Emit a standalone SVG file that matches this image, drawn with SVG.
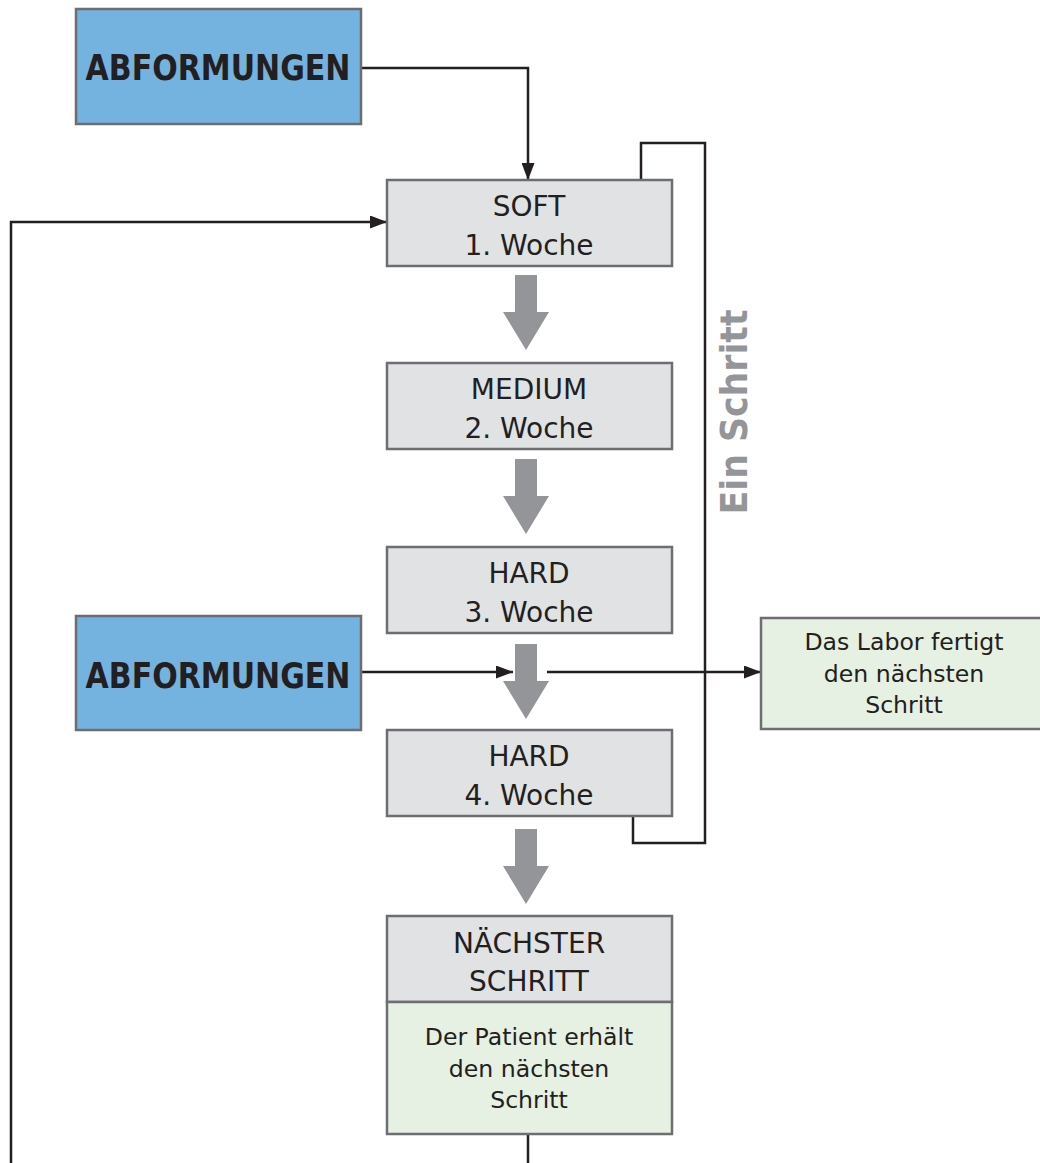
<svg xmlns="http://www.w3.org/2000/svg" width="1040" height="1163" viewBox="0 0 1040 1163">
<style>
.box{stroke:#6d6e71;stroke-width:2.5}
.gray{fill:#e1e2e4}
.blue{fill:#74b2e0}
.green{fill:#e6f0e3}
.t{font-family:"DejaVu Sans",sans-serif;font-size:28px;fill:#231f20;text-anchor:middle}
.s{font-family:"DejaVu Sans",sans-serif;font-size:23.6px;fill:#231f20;text-anchor:middle}
.b{font-family:"DejaVu Sans",sans-serif;font-size:36px;font-weight:bold;fill:#231f20;text-anchor:middle}
.ln{fill:none;stroke:#231f20;stroke-width:2.5}
.fat{fill:#939598}
</style>
<defs>
<marker id="ahb" markerWidth="17" markerHeight="13" refX="17" refY="6.5" orient="auto" markerUnits="userSpaceOnUse" viewBox="0 0 17 13">
<path d="M0,0 L17,6.5 L0,13 z" fill="#231f20"/>
</marker>
<path id="fatArrow" d="M-11,0 H11 V37 H23 L0,75 L-23,37 H-11 Z"/>
</defs>

<g id="connectors">
<polyline class="ln" points="361,68 528,68 528,180" marker-end="url(#ahb)"/>
<polyline class="ln" points="641,180 641,143 705,143 705,843 633,843 633,816"/>
<polyline class="ln" points="11,1163 11,222 387,222" marker-end="url(#ahb)"/>
<line class="ln" x1="361" y1="672" x2="513" y2="672" marker-end="url(#ahb)"/>
<line class="ln" x1="547" y1="672" x2="761" y2="672" marker-end="url(#ahb)"/>
<line class="ln" x1="528" y1="1134" x2="528" y2="1163"/>
<use href="#fatArrow" class="fat" x="526" y="275"/>
<use href="#fatArrow" class="fat" x="526" y="459"/>
<use href="#fatArrow" class="fat" x="526" y="644"/>
<use href="#fatArrow" class="fat" x="526" y="829"/>
</g>

<g id="abformungen1">
<rect class="box blue" x="76" y="9" width="285" height="115"/>
<text class="b" x="218" y="80" textLength="265" lengthAdjust="spacingAndGlyphs">ABFORMUNGEN</text>
</g>

<g id="soft">
<rect class="box gray" x="387" y="180" width="285" height="86"/>
<text class="t" x="529" y="216">SOFT</text>
<text class="t" x="529" y="255">1. Woche</text>
</g>

<g id="medium">
<rect class="box gray" x="387" y="363" width="285" height="86"/>
<text class="t" x="529" y="399">MEDIUM</text>
<text class="t" x="529" y="438">2. Woche</text>
</g>

<g id="hard3">
<rect class="box gray" x="387" y="547" width="285" height="86"/>
<text class="t" x="529" y="583">HARD</text>
<text class="t" x="529" y="622">3. Woche</text>
</g>

<g id="abformungen2">
<rect class="box blue" x="76" y="616" width="285" height="114"/>
<text class="b" x="218" y="688" textLength="265" lengthAdjust="spacingAndGlyphs">ABFORMUNGEN</text>
</g>

<g id="labor">
<rect class="box green" x="761" y="618" width="290" height="111"/>
<text class="s" x="904" y="650">Das Labor fertigt</text>
<text class="s" x="904" y="682">den nächsten</text>
<text class="s" x="904" y="713">Schritt</text>
</g>

<g id="hard4">
<rect class="box gray" x="387" y="730" width="285" height="86"/>
<text class="t" x="529" y="766">HARD</text>
<text class="t" x="529" y="805">4. Woche</text>
</g>

<g id="naechster">
<rect class="box gray" x="387" y="916" width="285" height="86"/>
<rect class="box green" x="387" y="1002" width="285" height="132"/>
<text class="t" x="529" y="953">NÄCHSTER</text>
<text class="t" x="529" y="991">SCHRITT</text>
<text class="s" x="529" y="1045">Der Patient erhält</text>
<text class="s" x="529" y="1077">den nächsten</text>
<text class="s" x="529" y="1108">Schritt</text>
</g>

<g id="label-ein-schritt">
<text x="747" y="412" transform="rotate(-90 747 412)" font-family="DejaVu Sans, sans-serif" font-size="38" font-weight="bold" fill="#939598" text-anchor="middle" textLength="205" lengthAdjust="spacingAndGlyphs">Ein Schritt</text>
</g>
</svg>
